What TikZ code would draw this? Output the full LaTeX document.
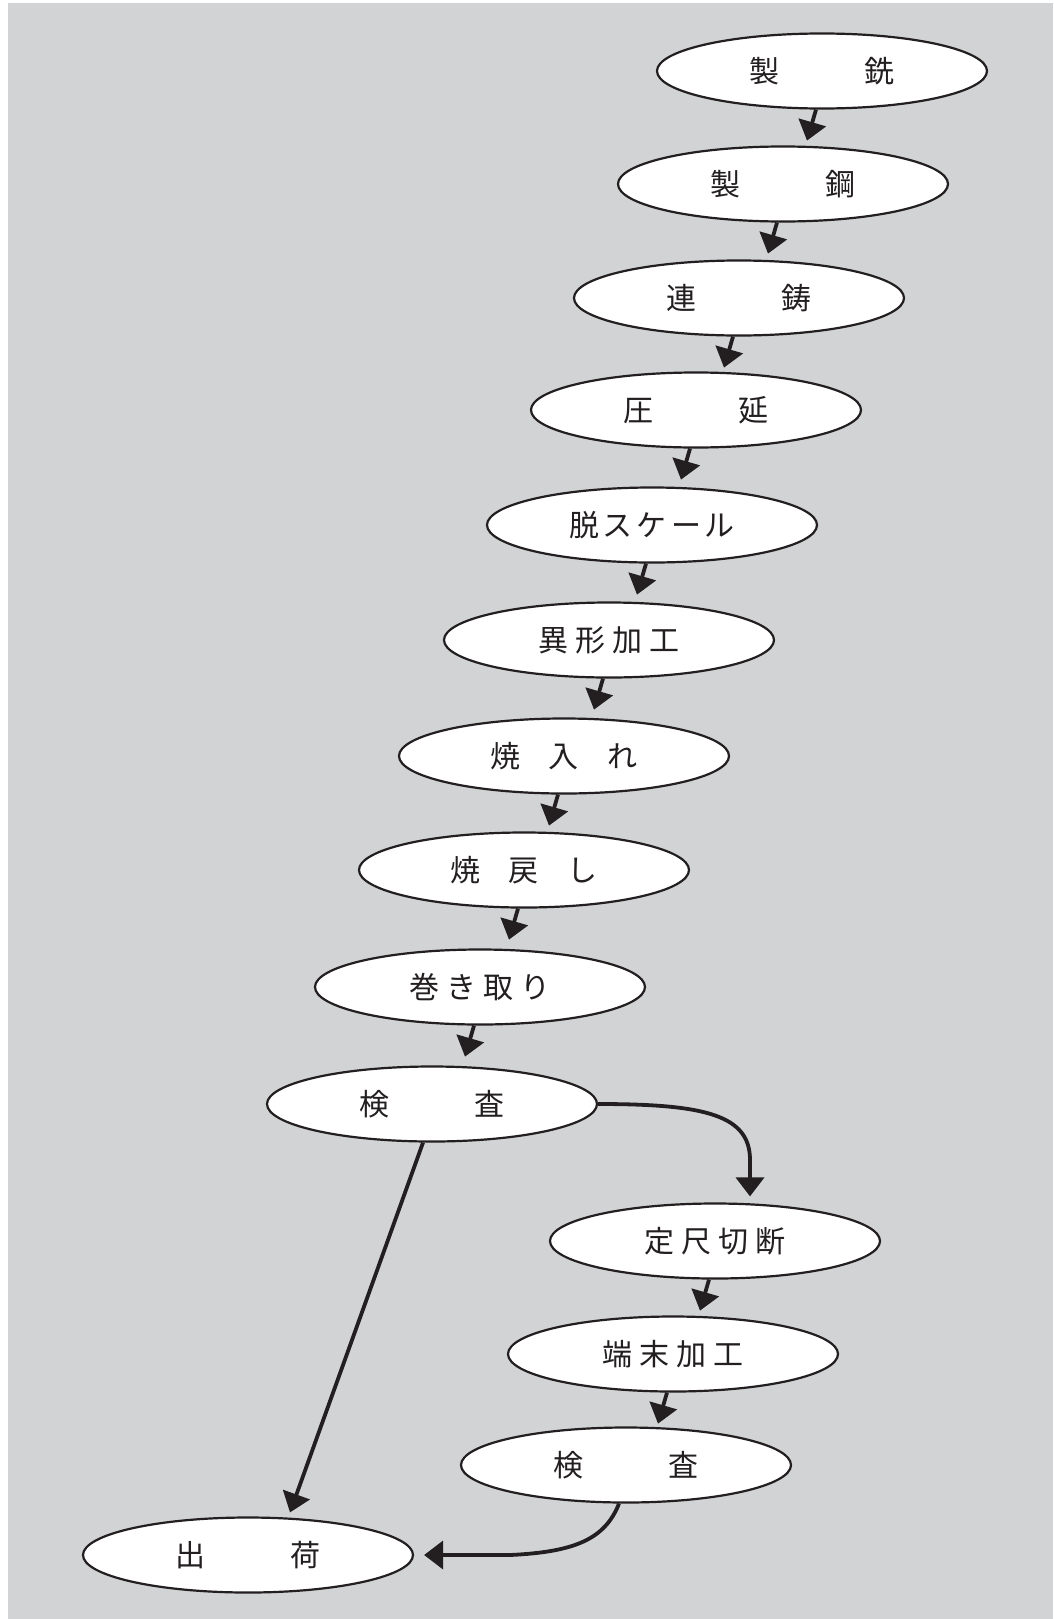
\documentclass[tikz,border=0pt]{standalone}
\usepackage{fontspec}
\newfontfamily\jp{Noto Sans CJK JP}
\usetikzlibrary{arrows.meta,shapes.geometric}
\definecolor{bggray}{RGB}{209,211,212}
\definecolor{ink}{RGB}{35,31,32}
\newcommand{\gp}[1]{\hspace{#1pt}}
\begin{document}
\begin{tikzpicture}[x=1pt,y=-1pt,
  proc/.style={ellipse, draw=ink, line width=2.2pt, fill=white, minimum width=330pt, minimum height=75pt, inner sep=0pt, font=\jp\fontsize{30}{30}\selectfont, text=ink},
  arr/.style={draw=ink, line width=3.8pt, -{Triangle[width=28pt,length=19pt]}},
]
\useasboundingbox (0,0) rectangle (1053,1619);
\fill[bggray] (8,3) rectangle (1053,1619);

\node[proc] (n1) at (822,71) {製\gp{86}銑};
\node[proc] (n2) at (783,184) {製\gp{86}鋼};
\node[proc] (n3) at (739,298) {連\gp{86}鋳};
\node[proc] (n4) at (696,410) {圧\gp{86}延};
\node[proc] (n5) at (652,525) {脱\gp{4}ス\gp{4}ケ\gp{4}ー\gp{4}ル};
\node[proc] (n6) at (609,640) {異\gp{7}形\gp{7}加\gp{7}工};
\node[proc] (n7) at (564,756) {焼\gp{29}入\gp{29}れ};
\node[proc] (n8) at (524,870) {焼\gp{29}戻\gp{29}し};
\node[proc] (n9) at (480,987) {巻\gp{7}き\gp{7}取\gp{7}り};
\node[proc] (k1) at (432,1104) {検\gp{86}査};
\node[proc] (c1) at (715,1241) {定\gp{7}尺\gp{7}切\gp{7}断};
\node[proc] (c2) at (673,1354) {端\gp{7}末\gp{7}加\gp{7}工};
\node[proc] (k2) at (626,1465) {検\gp{86}査};
\node[proc] (sh) at (248,1555) {出\gp{86}荷};

\foreach \a/\b in {n1/n2,n2/n3,n3/n4,n4/n5,n5/n6,n6/n7,n7/n8,n8/n9,n9/k1,c1/c2,c2/k2}
  \draw[arr] ([xshift=-6pt]\a.south) -- ++(-9,31);

\draw[arr] ([xshift=-9pt]k1.south) -- ([xshift=42pt,yshift=4pt]sh.north);

\coordinate (b1) at (750,1160);
\draw[arr] (k1.east) .. controls (705,1104) and (750,1115) .. (b1) -- ([xshift=35pt,yshift=6pt]c1.north);

\coordinate (b2) at (510,1555);
\draw[line width=3.8pt, draw=ink] ([xshift=-7pt]k2.south) .. controls (605,1539) and (575,1552) .. (b2);
\draw[arr] (b2) -- ([xshift=10pt]sh.east);
\end{tikzpicture}
\end{document}
